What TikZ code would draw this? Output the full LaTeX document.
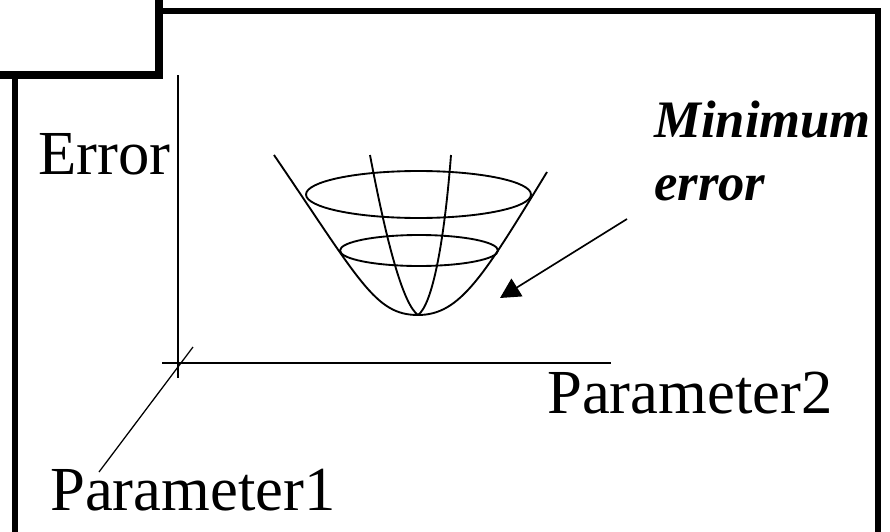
\documentclass[tikz,border=0pt]{standalone}
\usepackage{fontspec}
\setmainfont{Liberation Serif}
\usetikzlibrary{arrows.meta}
\tikzset{
  thickframe/.style={line width=4.1pt, line join=miter},
  tabbox/.style={line width=6pt, line join=miter, fill=white},
  axisline/.style={line width=0.95pt},
  surf/.style={line width=1.4pt},
  bigtxt/.style={inner sep=0pt, anchor=base west, font=\fontsize{47}{56}\selectfont},
  boldtxt/.style={inner sep=0pt, anchor=base west, font=\fontsize{39.5}{46}\selectfont\bfseries\itshape},
  pointer/.style={line width=1.25pt, -{Triangle[length=15pt,width=15.5pt]}}
}
\begin{document}
\begin{tikzpicture}[x=0.75pt,y=-0.75pt]
\useasboundingbox (0,0) rectangle (890,532);
\clip (0,0) rectangle (890,532);
\fill[white] (0,0) rectangle (890,532);
% frame and tab
\draw[thickframe] (15,11) rectangle (878,620);
\draw[tabbox] (-40,-40) rectangle (159,75);
% axes
\coordinate (vtop) at (178,75);
\coordinate (vbot) at (178,378);
\coordinate (hleft) at (162,363);
\coordinate (hright) at (611,363);
\coordinate (dtop) at (193,347);
\coordinate (dbot) at (99,472);
\draw[axisline] (vtop) -- (vbot);
\draw[axisline] (hleft) -- (hright);
\draw[axisline] (dtop) -- (dbot);
% paraboloid
\coordinate (bot) at (418,315);
\draw[surf] (274,155) .. controls (360,281) and (375,315) .. (bot)
            .. controls (460,315) and (483,277) .. (547,172);
\draw[surf] (370,155) .. controls (388,250) and (404,305) .. (bot);
\draw[surf] (451,155) .. controls (444,245) and (432,305) .. (bot);
\draw[surf] (418.5,194.5) ellipse [x radius=112.5, y radius=23.5];
\draw[surf] (419,250.5) ellipse [x radius=79, y radius=15.5];
% texts
\node[bigtxt] (err) at (38,174) {Error};
\node[bigtxt] (p1) at (50,510) {Parameter1};
\node[bigtxt] (p2) at (547,413) {Parameter2};
\node[boldtxt] (mn) at (654,137) {Minimum};
\node[boldtxt] (me) at (654,200) {error};
% arrow
\coordinate (arrS) at (627,219);
\coordinate (arrT) at (500,298);
\draw[pointer] (arrS) -- (arrT);
\end{tikzpicture}
\end{document}
